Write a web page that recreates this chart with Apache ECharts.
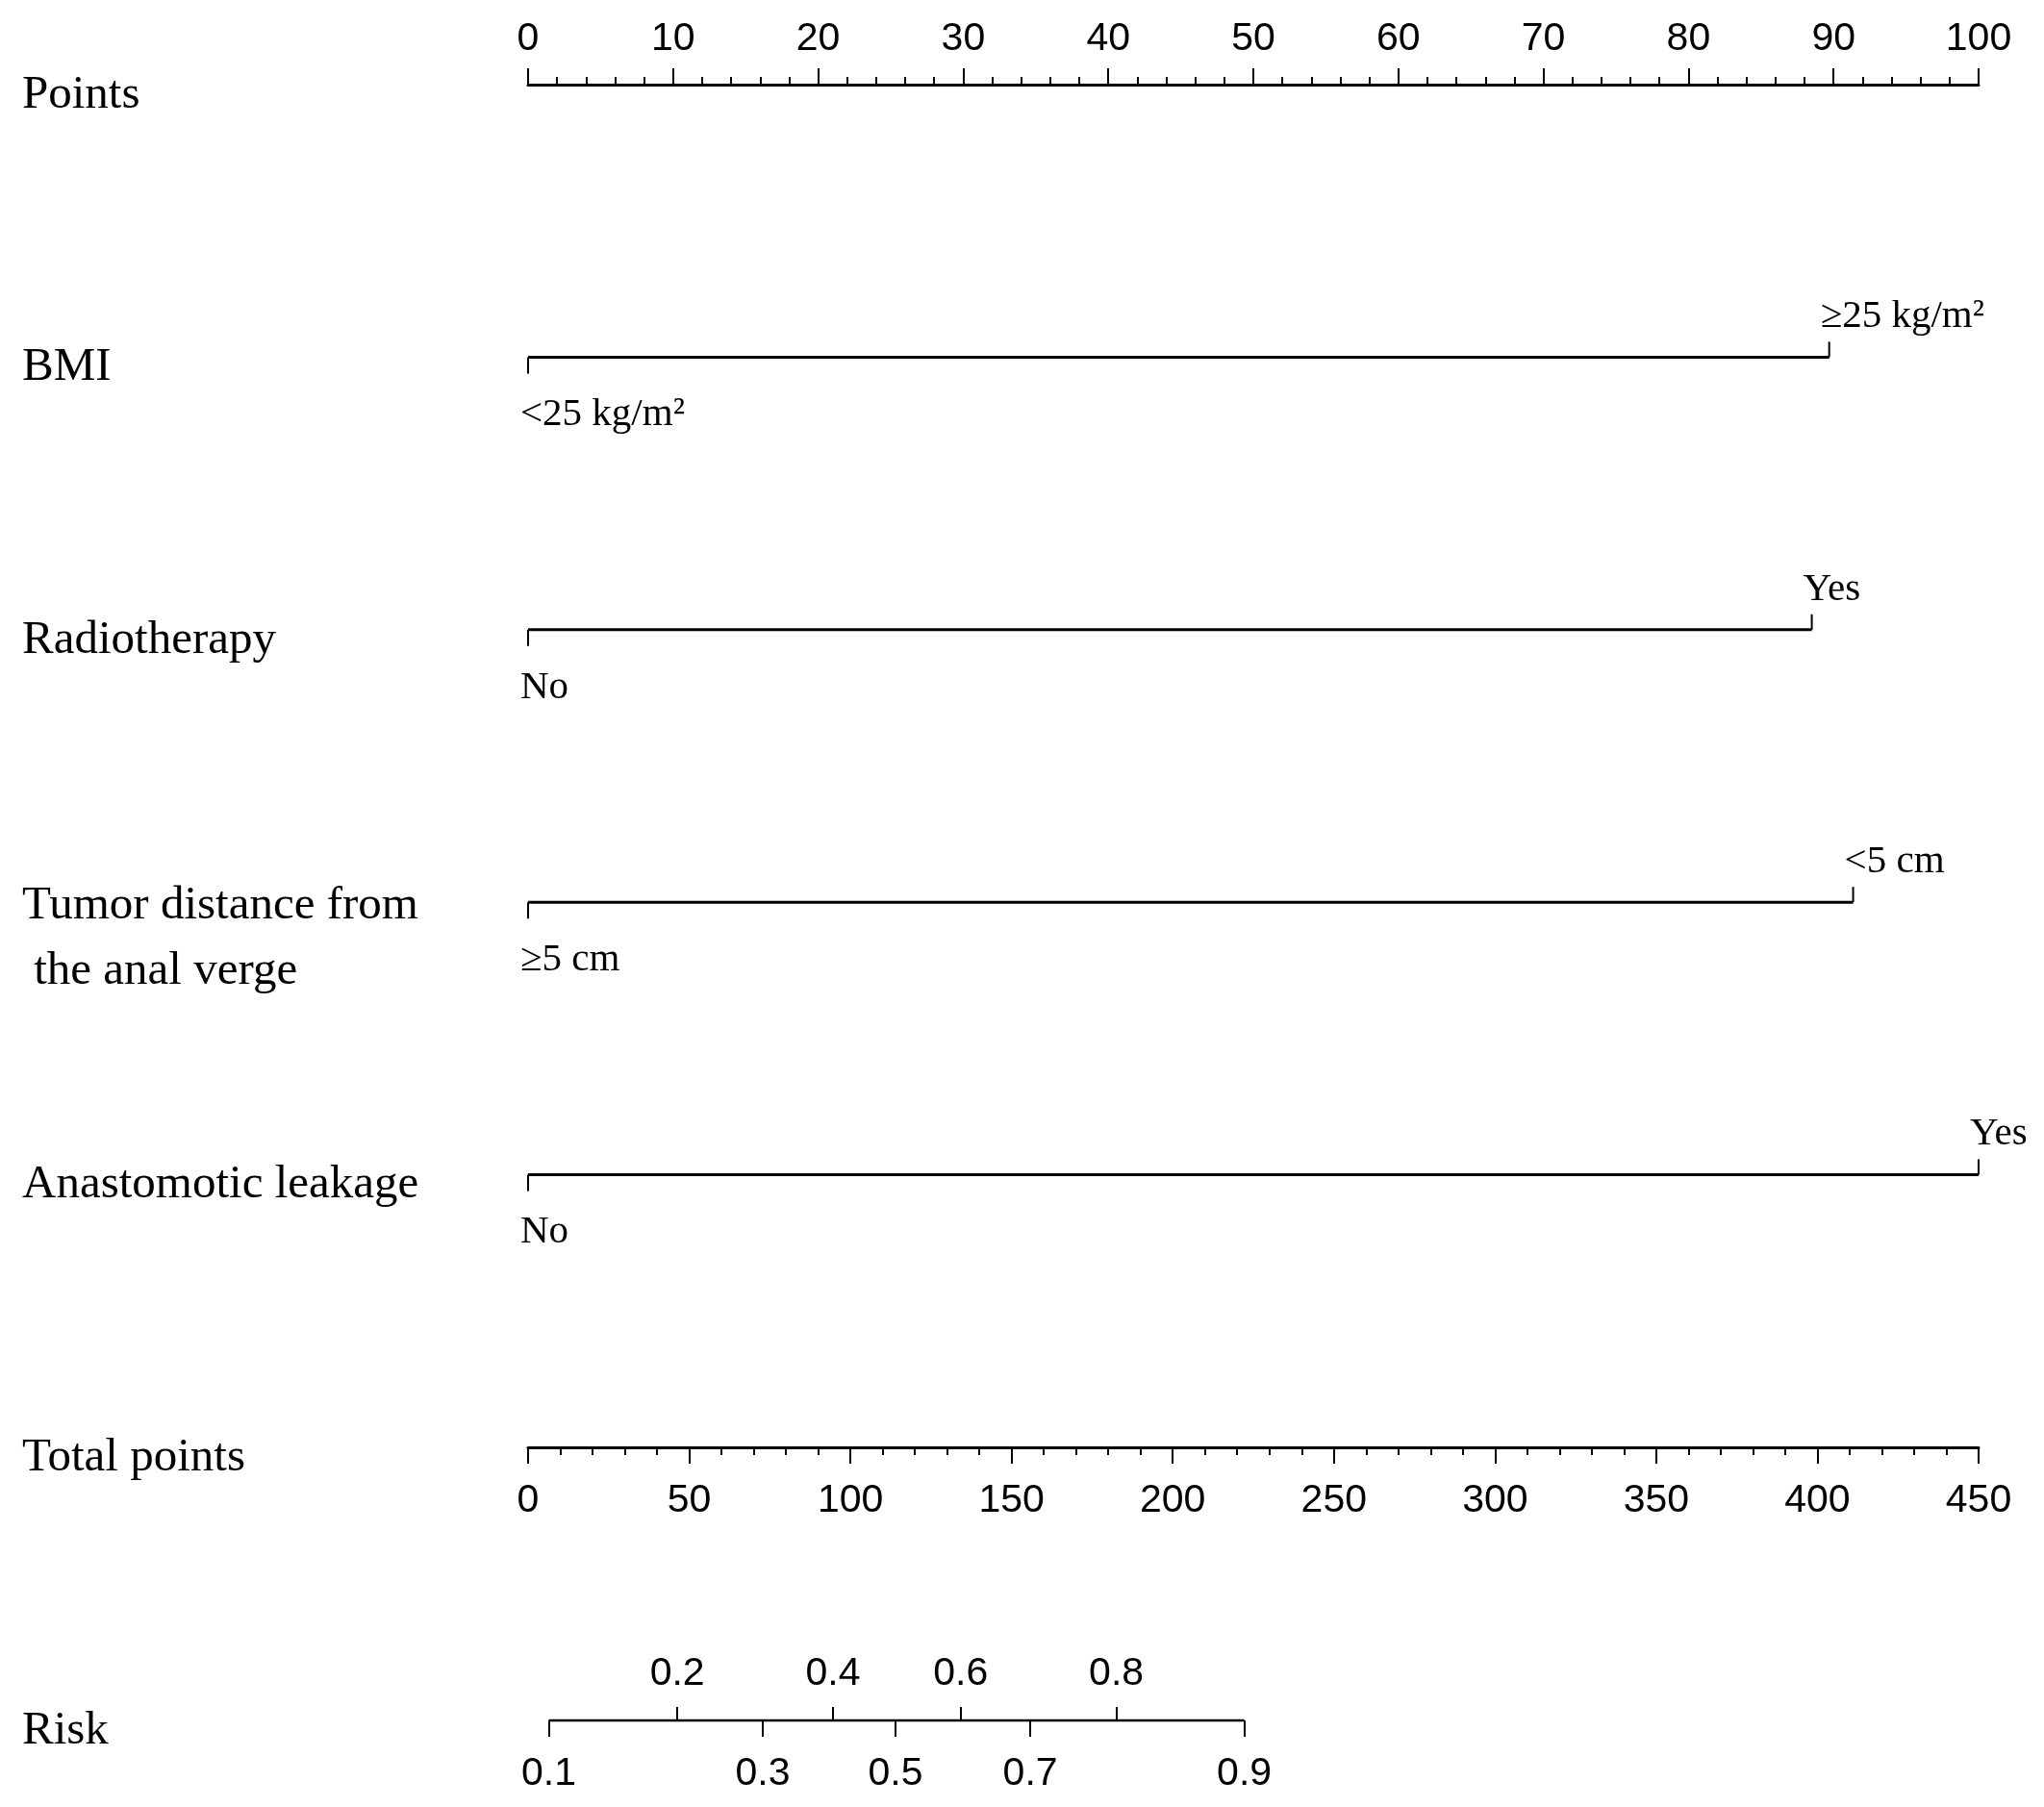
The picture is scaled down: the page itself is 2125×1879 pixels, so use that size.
<!DOCTYPE html>
<html>
<head>
<meta charset="utf-8">
<script src="https://cdn.jsdelivr.net/npm/echarts@6/dist/echarts.min.js"></script>
<style>
  html, body { margin: 0; padding: 0; background: #fff; }
  #chart { width: 2125px; height: 1879px; }
</style>
</head>
<body>
<div id="chart"></div>
<script>
// row names, top to bottom (Risk sits on its own grid)
const rowNames = ['Points', 'BMI', 'Radiotherapy', 'Tumor distance from\n the anal verge', 'Anastomotic leakage', 'Total points']
const riskName = 'Risk'

// factor rows: points given to the "high" level (low level is always 0)
const factorHighPoints = [89.7, 88.5, 91.35, 100]
const factorLowLevels = ['<25 kg/m²', 'No', '≥5 cm', 'No']
const factorHighLevels = ['≥25 kg/m²', 'Yes', '<5 cm', 'Yes']

// risk scale: total points where each risk value falls
const riskLabels = ['0.1', '0.2', '0.3', '0.4', '0.5', '0.6', '0.7', '0.8', '0.9']
const riskAtTotal = [6.4, 46.3, 72.8, 94.6, 114.0, 134.2, 155.8, 182.5, 222.2]

const pointsMax = 100
const totalMax = 450

const serif = 'Liberation Serif'
const sans = 'Liberation Sans'

const chart = echarts.init(document.getElementById('chart'))

// even-index risk values go below the line, odd ones above
const riskBelow = riskAtTotal.filter((v, i) => i % 2 === 0)
const riskAbove = riskAtTotal.filter((v, i) => i % 2 === 1)
const riskText = (v) => riskLabels[riskAtTotal.indexOf(v)]

// row names sit a little below their line; two-line names use rich lines
const nameFont = { fontFamily: serif, fontSize: 49, color: '#000' }
const rowLabel = {
  show: true,
  align: 'left',
  verticalAlign: 'top',
  margin: 526,
  lineHeight: 22,
  ...nameFont,
  rich: {
    first: { ...nameFont, lineHeight: 8 },
    second: { ...nameFont, lineHeight: 128 },
  },
}
const formatName = (name) => {
  if (!name.includes('\n')) return name
  const [a, b] = name.split('\n')
  return '{first|' + a + '}\n{second|' + b + '}'
}

const option = {
  backgroundColor: '#fff',
  animation: false,
  grid: [
    { left: 549, width: 1508, top: 88, height: 1417 },
    { left: 549, width: 1508, top: 1789, height: 0 },
  ],
  xAxis: [
    {
      // Points
      gridIndex: 0,
      type: 'value',
      position: 'top',
      min: 0,
      max: pointsMax,
      interval: 10,
      axisLine: { onZero: false, lineStyle: { color: '#000', width: 3 } },
      axisTick: { length: 17, lineStyle: { color: '#000', width: 2 } },
      minorTick: { show: true, splitNumber: 5, length: 8, lineStyle: { color: '#000', width: 2 } },
      axisLabel: { margin: 27, fontFamily: sans, fontSize: 41, color: '#000' },
      splitLine: { show: false },
    },
    {
      // Total points
      gridIndex: 0,
      type: 'value',
      position: 'bottom',
      min: 0,
      max: totalMax,
      interval: 50,
      axisLine: { onZero: false, lineStyle: { color: '#000', width: 3 } },
      axisTick: { length: 17, lineStyle: { color: '#000', width: 2 } },
      minorTick: { show: true, splitNumber: 5, length: 8, lineStyle: { color: '#000', width: 2 } },
      axisLabel: { margin: 35, fontFamily: sans, fontSize: 41, color: '#000' },
      splitLine: { show: false },
    },
    {
      // Risk, upper ticks
      gridIndex: 1,
      type: 'value',
      position: 'top',
      min: 0,
      max: totalMax,
      axisLine: { show: false, onZero: false },
      axisTick: { customValues: riskAbove, length: 14, lineStyle: { color: '#000', width: 2 } },
      axisLabel: { customValues: riskAbove, formatter: riskText, margin: 28, fontFamily: sans, fontSize: 41, color: '#000' },
      splitLine: { show: false },
    },
    {
      // Risk, lower ticks
      gridIndex: 1,
      type: 'value',
      position: 'bottom',
      min: 0,
      max: totalMax,
      axisLine: { show: false, onZero: false },
      axisTick: { customValues: riskBelow, length: 17, lineStyle: { color: '#000', width: 2 } },
      axisLabel: { customValues: riskBelow, formatter: riskText, margin: 35, fontFamily: sans, fontSize: 41, color: '#000' },
      splitLine: { show: false },
    },
  ],
  yAxis: [
    {
      gridIndex: 0,
      type: 'value',
      inverse: true,
      min: 0,
      max: rowNames.length - 1,
      interval: 1,
      axisLine: { show: false, onZero: false },
      axisTick: { show: false },
      splitLine: { show: false },
      axisLabel: { ...rowLabel, formatter: (v) => formatName(rowNames[v] || '') },
    },
    {
      gridIndex: 1,
      type: 'value',
      min: 0,
      max: 1,
      interval: 1,
      axisLine: { show: false, onZero: false },
      axisTick: { show: false },
      splitLine: { show: false },
      axisLabel: { ...rowLabel, formatter: (v) => (v === 0 ? riskName : '') },
    },
  ],
  series: [
    {
      // factor rows
      type: 'custom',
      xAxisIndex: 0,
      yAxisIndex: 0,
      data: factorHighPoints.map((v, i) => [0, i + 1, v]),
      renderItem: (params, api) => {
        const i = params.dataIndex
        const p0 = api.coord([api.value(0), api.value(1)])
        const p1 = api.coord([api.value(2), api.value(1)])
        const levelFont = { fontFamily: serif, fontSize: 41, fill: '#000', align: 'left', verticalAlign: 'middle' }
        return {
          type: 'group',
          children: [
            { type: 'line', shape: { x1: p0[0], y1: p0[1], x2: p1[0], y2: p1[1] }, style: { stroke: '#000', lineWidth: 3 } },
            { type: 'line', shape: { x1: p0[0], y1: p0[1], x2: p0[0], y2: p0[1] + 17 }, style: { stroke: '#000', lineWidth: 2 } },
            { type: 'line', shape: { x1: p1[0], y1: p1[1], x2: p1[0], y2: p1[1] - 16 }, style: { stroke: '#000', lineWidth: 2 } },
            { type: 'text', x: p0[0] - 8, y: p0[1] + 60, style: { text: factorLowLevels[i], ...levelFont } },
            { type: 'text', x: p1[0] - 9, y: p1[1] - 42, style: { text: factorHighLevels[i], ...levelFont } },
          ],
        }
      },
    },
    {
      // risk line
      type: 'line',
      xAxisIndex: 2,
      yAxisIndex: 1,
      symbol: 'none',
      lineStyle: { color: '#000', width: 3 },
      data: [[riskAtTotal[0], 0], [riskAtTotal[riskAtTotal.length - 1], 0]],
    },
  ],
}

chart.setOption(option)
</script>
</body>
</html>
